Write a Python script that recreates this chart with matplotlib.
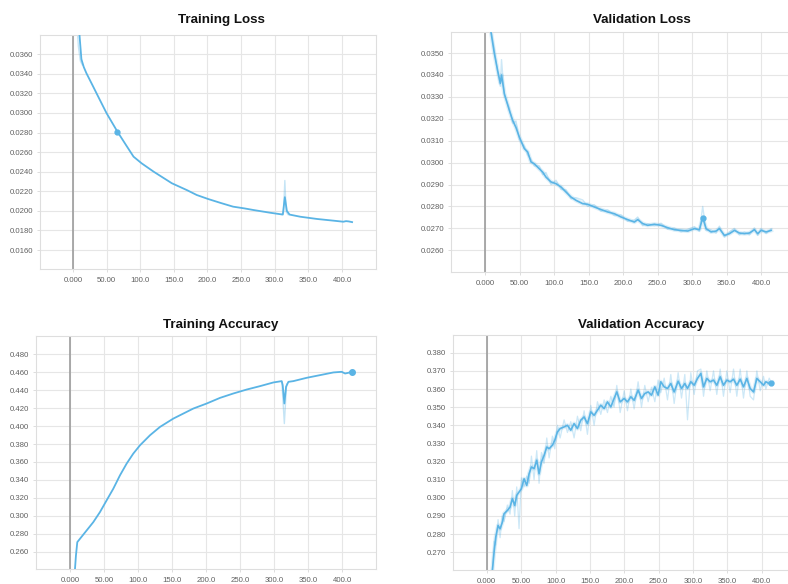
import numpy as np
import matplotlib
matplotlib.use('Agg')
import matplotlib.pyplot as plt

plt.rcParams['font.family'] = ['Liberation Sans', 'DejaVu Sans']

LINE = '#5ab4e5'
GRID = '#e6e6e6'
TXT = '#606060'

x_ticks = [0, 50, 100, 150, 200, 250, 300, 350, 400]
x_labels = ['0.000', '50.00', '100.0', '150.0', '200.0', '250.0', '300.0', '350.0', '400.0']

# training loss (smoothed)
tl_steps = [8.5, 12.5, 16, 20, 30, 40, 50, 66, 80, 90, 102, 120, 147, 170, 184, 201, 220,
            238, 255, 268, 293, 312, 315, 318, 322, 338, 363, 387, 402, 406, 410, 415]
tl_vals = [0.0390, 0.0355, 0.0347, 0.03406, 0.0327, 0.03133, 0.02997, 0.0281, 0.0266, 0.02554,
           0.02486, 0.0240, 0.02282, 0.0221, 0.02162, 0.02121, 0.0208, 0.02043, 0.02025, 0.02009,
           0.01981, 0.01962, 0.0214, 0.0200, 0.01962, 0.0194, 0.01917, 0.0190, 0.01889, 0.01895,
           0.01892, 0.01885]
tl_raw_steps = [6, 8, 11, 14, 310, 313, 315, 317, 320]
tl_raw_vals = [0.0390, 0.0368, 0.0353, 0.0349, 0.01965, 0.0198, 0.0231, 0.0199, 0.0196]
tl_yticks = [0.016, 0.018, 0.020, 0.022, 0.024, 0.026, 0.028, 0.030, 0.032, 0.034, 0.036]
tl_mark = (66, 0.0281)

# validation loss
vl_steps = [8, 13, 17.9, 21.8, 23.5, 27.6, 34.8, 39.7, 44.5, 49.3, 56.6, 61.4, 66.3, 71, 78.3,
            83.2, 88, 95.3, 102.5, 109.8, 117, 124.3, 131.6, 141.2, 148.5, 158, 167.8, 177.5,
            187.2, 196.9, 206.5, 216.2, 221, 228.3, 235.5, 245.2, 254.9, 264.6, 274.2, 283.9,
            293.6, 303.3, 310.5, 315.3, 320.2, 327.4, 334.7, 339.5, 346.8, 354, 361.3, 368.5,
            375.8, 383, 390.3, 395.1, 400, 407.3, 414.5]
vl_vals = [0.0360, 0.0350, 0.0342, 0.03362, 0.0340, 0.03315, 0.03239, 0.03193, 0.03160, 0.03117,
           0.03064, 0.03049, 0.03003, 0.02995, 0.02972, 0.02957, 0.02934, 0.02912, 0.02904,
           0.02889, 0.02866, 0.02843, 0.02828, 0.02813, 0.0281, 0.02798, 0.02786, 0.02775,
           0.02767, 0.02752, 0.0274, 0.02729, 0.0274, 0.02722, 0.02714, 0.02719, 0.02714,
           0.02703, 0.02694, 0.02691, 0.02688, 0.02699, 0.02694, 0.02749, 0.02699, 0.02684,
           0.02688, 0.02699, 0.02668, 0.02676, 0.02691, 0.02679, 0.02676, 0.02679, 0.02694,
           0.02676, 0.02691, 0.02684, 0.02691]
vl_raw_vals = [0.0361, 0.0352, 0.0341, 0.03348, 0.0347, 0.03305, 0.03250, 0.03180, 0.03190, 0.03105,
               0.03075, 0.03035, 0.03015, 0.02985, 0.02985, 0.02945, 0.02955, 0.02900, 0.02920,
               0.02878, 0.02876, 0.02835, 0.02840, 0.02830, 0.02800, 0.02808, 0.02778, 0.02785,
               0.02758, 0.02762, 0.02732, 0.02738, 0.02752, 0.02712, 0.02722, 0.02712, 0.02724,
               0.02696, 0.02702, 0.02684, 0.02696, 0.02708, 0.02686, 0.02800, 0.02690, 0.02694,
               0.02678, 0.02710, 0.02660, 0.02684, 0.02700, 0.02670, 0.02684, 0.02670, 0.02702,
               0.02668, 0.02700, 0.02676, 0.02698]
vl_yticks = [0.026, 0.027, 0.028, 0.029, 0.030, 0.031, 0.032, 0.033, 0.034, 0.035]
vl_mark = (315.3, 0.02749)

# training accuracy
ta_steps = [6.9, 8.3, 10.3, 14.2, 24, 33.8, 43.6, 53.4, 63.2, 73, 82.8, 92.6, 102.5, 117.2,
            131.9, 151.5, 166.2, 180.9, 200.5, 220.1, 239.7, 259.3, 278.9, 298.5, 310.8, 312.3,
            314.7, 317.2, 320.6, 327.9, 347.5, 367.2, 386.8, 399, 404, 408.8, 413.7]
ta_vals = [0.2406, 0.2555, 0.2705, 0.2742, 0.2835, 0.2928, 0.3040, 0.3171, 0.3301, 0.3450,
           0.3581, 0.3693, 0.3786, 0.3898, 0.3991, 0.4084, 0.4140, 0.4196, 0.4252, 0.4315,
           0.4364, 0.4408, 0.4446, 0.4487, 0.4502, 0.4457, 0.4252, 0.4438, 0.4494, 0.4502,
           0.4539, 0.4569, 0.4599, 0.4606, 0.4587, 0.4595, 0.4606]
ta_raw_steps = [311, 314.7, 318]
ta_raw_vals = [0.4495, 0.4028, 0.4470]
ta_yticks = [0.26, 0.28, 0.30, 0.32, 0.34, 0.36, 0.38, 0.40, 0.42, 0.44, 0.46, 0.48]
ta_mark = (413.7, 0.4606)

# validation accuracy
va_steps = [8.2, 10.7, 13.1, 16.5, 19.4, 22.8, 25.2, 30, 33.9, 37.3, 40.7, 43.6, 47, 50.4, 54.3,
            58.2, 61.6, 65, 68.8, 72.7, 76.1, 79.5, 83.4, 87.3, 90.7, 95.5, 98.9, 102.8, 106.7,
            112.5, 117.3, 122.2, 127, 131.9, 136.7, 141.6, 146.4, 151.3, 156.1, 161, 165.8,
            170.7, 175.5, 180.4, 185.2, 189.1, 194, 199.8, 204.6, 209.5, 214.3, 220.1, 225,
            229.8, 234.7, 239.5, 244.4, 249.2, 253.1, 258, 262.8, 267.6, 272.5, 278.3, 283.2,
            288, 291.9, 296.7, 301.6, 306.4, 311.3, 315.2, 320, 324.8, 329.7, 334.5, 339.4,
            344.2, 349.1, 353.9, 358.8, 363.6, 368.5, 373.3, 378.2, 383, 387.9, 392.7, 397.6,
            402.4, 405.8, 410.7, 415.5]
va_vals = [0.2599, 0.2700, 0.2783, 0.2847, 0.2829, 0.2866, 0.2912, 0.2930, 0.2949, 0.2995,
           0.2958, 0.3013, 0.3032, 0.3050, 0.3105, 0.3068, 0.3133, 0.3170, 0.3161, 0.3207,
           0.3133, 0.3197, 0.3234, 0.3280, 0.3271, 0.3290, 0.3317, 0.3363, 0.3382, 0.3391,
           0.3400, 0.3373, 0.3409, 0.3382, 0.3428, 0.3446, 0.3409, 0.3474, 0.3455, 0.3483,
           0.3511, 0.3492, 0.3529, 0.3501, 0.3548, 0.3584, 0.3529, 0.3548, 0.3529, 0.3557,
           0.3538, 0.3594, 0.3548, 0.3575, 0.3584, 0.3566, 0.3612, 0.3566, 0.3640, 0.3612,
           0.3603, 0.3630, 0.3584, 0.3643, 0.3603, 0.3630, 0.3603, 0.3640, 0.3621, 0.3658,
           0.3686, 0.3612, 0.3658, 0.3640, 0.3649, 0.3621, 0.3667, 0.3621, 0.3649, 0.3640,
           0.3654, 0.3621, 0.3654, 0.3612, 0.3658, 0.3603, 0.3584, 0.3658, 0.3640, 0.3621,
           0.3640, 0.3630, 0.3636]
va_raw_vals = [0.2599, 0.2760, 0.2740, 0.2880, 0.2780, 0.2900, 0.2870, 0.2960, 0.2910, 0.3040,
               0.2900, 0.3060, 0.2830, 0.3110, 0.3060, 0.3120, 0.3080, 0.3230, 0.3100, 0.3260,
               0.3080, 0.3250, 0.3190, 0.3330, 0.3220, 0.3340, 0.3270, 0.3400, 0.3330, 0.3430,
               0.3360, 0.3420, 0.3330, 0.3450, 0.3370, 0.3480, 0.3350, 0.3510, 0.3400, 0.3530,
               0.3460, 0.3540, 0.3470, 0.3560, 0.3500, 0.3620, 0.3470, 0.3590, 0.3480, 0.3600,
               0.3490, 0.3640, 0.3500, 0.3620, 0.3530, 0.3610, 0.3530, 0.3650, 0.3580, 0.3660,
               0.3540, 0.3680, 0.3520, 0.3690, 0.3550, 0.3680, 0.3430, 0.3690, 0.3570, 0.3700,
               0.3710, 0.3560, 0.3700, 0.3590, 0.3700, 0.3570, 0.3710, 0.3560, 0.3700, 0.3580,
               0.3710, 0.3560, 0.3710, 0.3550, 0.3700, 0.3560, 0.3540, 0.3700, 0.3590, 0.3670,
               0.3600, 0.3660, 0.3620]
va_yticks = [0.27, 0.28, 0.29, 0.30, 0.31, 0.32, 0.33, 0.34, 0.35, 0.36, 0.37, 0.38]
va_mark = (414, 0.3632)

fig = plt.figure(figsize=(7.88, 5.84), dpi=100)


def panel(rect, xlim, ylim, yticks, yfmt, right_spine=True):
    ax = fig.add_axes(rect)
    ax.set_xlim(*xlim)
    ax.set_ylim(*ylim)
    ax.set_xticks(x_ticks)
    ax.set_xticklabels(x_labels)
    ax.set_yticks(yticks)
    ax.set_yticklabels([yfmt.format(v) for v in yticks])
    ax.grid(True, color=GRID, lw=0.8, zorder=0)
    ax.tick_params(axis='both', labelsize=5.6, colors=TXT, length=2.5, width=0.6)
    ax.tick_params(axis='x', pad=3.5, color='#d8d8d8')
    ax.tick_params(axis='y', pad=2.5, color='#d8d8d8')
    for name, sp in ax.spines.items():
        sp.set_color('#dedede')
        sp.set_linewidth(0.8)
    if not right_spine:
        ax.spines['right'].set_visible(False)
    ax.axvline(0, color='#9c9c9c', lw=1.2, zorder=2)
    return ax


# top-left: training loss
ax = panel([0.0508, 0.5394, 0.4264, 0.4007], (-49, 450.6), (0.01406, 0.03797),
           tl_yticks, '{:.4f}')
ax.plot(tl_raw_steps[:4], tl_raw_vals[:4], color=LINE, alpha=0.35, lw=1, zorder=2)
ax.plot(tl_raw_steps[4:], tl_raw_vals[4:], color=LINE, alpha=0.35, lw=1, zorder=2)
ax.plot(tl_steps, tl_vals, color=LINE, lw=1.3, zorder=3)
ax.plot(*tl_mark, 'o', color=LINE, ms=3.5, zorder=4)

# top-right: validation loss
ax = panel([0.5723, 0.5342, 0.4277, 0.4110], (-49.8, 439), (0.02501, 0.03596),
           vl_yticks, '{:.4f}', right_spine=False)
ax.plot(vl_steps, vl_raw_vals, color=LINE, alpha=0.3, lw=1, zorder=2)
ax.plot(vl_steps, vl_vals, color=LINE, alpha=0.2, lw=3, zorder=2)
ax.plot(vl_steps, vl_vals, color=LINE, lw=1.2, zorder=3)
ax.plot(*vl_mark, 'o', color=LINE, ms=3.5, zorder=4)

# bottom-left: training accuracy
ax = panel([0.0457, 0.0257, 0.4315, 0.3990], (-50.4, 449.5), (0.2405, 0.5006),
           ta_yticks, '{:.3f}')
ax.plot(ta_raw_steps, ta_raw_vals, color=LINE, alpha=0.35, lw=1, zorder=2)
ax.plot(ta_steps, ta_vals, color=LINE, lw=1.3, zorder=3)
ax.plot(*ta_mark, 'o', color=LINE, ms=4, zorder=4)

# bottom-right: validation accuracy
ax = panel([0.5749, 0.0240, 0.4251, 0.4024], (-49, 438), (0.2602, 0.3898),
           va_yticks, '{:.3f}', right_spine=False)
ax.plot(va_steps, va_raw_vals, color=LINE, alpha=0.3, lw=0.9, zorder=2)
ax.plot(va_steps, va_vals, color=LINE, alpha=0.2, lw=3, zorder=2)
ax.plot(va_steps, va_vals, color=LINE, lw=1.2, zorder=3)
ax.plot(*va_mark, 'o', color=LINE, ms=3.5, zorder=4)

title_kw = dict(fontsize=9.6, fontweight='bold', ha='center', va='baseline', color='#111111')
fig.text(221 / 788, 1 - 22.7 / 584, 'Training Loss', **title_kw)
fig.text(641.7 / 788, 1 - 22.7 / 584, 'Validation Loss', **title_kw)
fig.text(221 / 788, 1 - 328 / 584, 'Training Accuracy', **title_kw)
fig.text(641 / 788, 1 - 328 / 584, 'Validation Accuracy', **title_kw)

fig.savefig('out.png', dpi=100, facecolor='white')
